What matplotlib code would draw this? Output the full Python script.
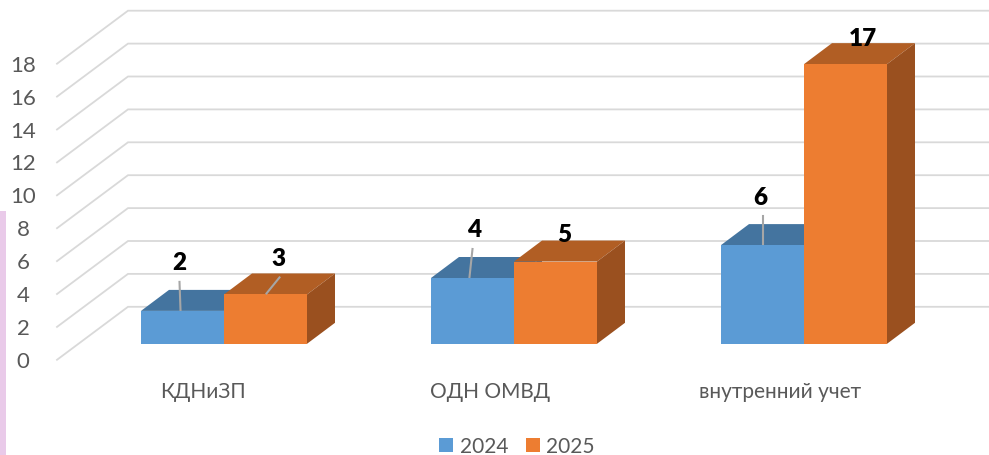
import matplotlib
matplotlib.use("Agg")
import matplotlib.pyplot as plt
from matplotlib.patches import Patch, Rectangle

plt.rcParams['font.family'] = ['Lato', 'DejaVu Sans']

categories = ["КДНиЗП", "ОДН ОМВД", "внутренний учет"]
series_2024 = [2, 4, 6]
series_2025 = [3, 5, 17]
y_ticks = [0, 2, 4, 6, 8, 10, 12, 14, 16, 18]
legend_labels = ["2024", "2025"]

W, H = 989, 456
PX_X = 290.0      # pixels per category
PX_Y = 16.45      # pixels per unit
X0, Y0 = 224.0, 344.8
BAR_W = 83 / PX_X
DX, DY = 28 / PX_X, 21 / PX_Y
GRID_X0 = (57 - X0) / PX_X
GRID_X1 = (128 - X0) / PX_X
GRID_BASE_F = (Y0 - 360.8) / PX_Y
GRID_BASE_B = (Y0 - 307.8) / PX_Y

BLUE, BLUE_TOP = "#5B9BD5", "#44749F"
ORANGE, ORANGE_TOP, ORANGE_SIDE = "#ED7D31", "#B15E24", "#9A501F"
GRID, TXT = "#D9D9D9", "#595959"

fig = plt.figure(figsize=(W / 100, H / 100), dpi=100, facecolor="white")
ax = fig.add_axes([0, 0, 1, 1])
ax.set_xlim(-X0 / PX_X, (W - X0) / PX_X)
ax.set_ylim((Y0 - H) / PX_Y, Y0 / PX_Y)
ax.axis("off")

# pink strip at the left edge
fig.add_artist(Rectangle((0, 0), 6 / W, (H - 212) / H, transform=fig.transFigure,
                         facecolor="#E9CAE9", edgecolor="none"))

# walls
xmax = ax.get_xlim()[1]
for t in y_ticks:
    ax.plot([GRID_X0, GRID_X1, xmax], [GRID_BASE_F + t, GRID_BASE_B + t, GRID_BASE_B + t],
            color=GRID, lw=1.3, zorder=1, solid_joinstyle="miter")
    ax.annotate(str(t), xy=(GRID_X0, GRID_BASE_F + t), xytext=(-34, -1), textcoords="offset pixels",
                ha="center", va="center", fontsize=16, color=TXT)


def bar3d(xc, v, front, top, side, z):
    l, r = xc - BAR_W / 2, xc + BAR_W / 2
    ax.bar(xc, v, width=BAR_W, color=front, zorder=z + 0.2, linewidth=0)
    ax.fill([l, r, r + DX, l + DX], [v, v, v + DY, v + DY], color=top, lw=0, zorder=z)
    ax.fill([r, r + DX, r + DX, r], [0, DY, v + DY, v], color=side, lw=0, zorder=z)


for i in range(len(categories)):
    bar3d(i - BAR_W / 2, series_2024[i], BLUE, BLUE_TOP, BLUE_TOP, 2 + i)
    bar3d(i + BAR_W / 2, series_2025[i], ORANGE, ORANGE_TOP, ORANGE_SIDE, 2.5 + i)

# data labels: pixel offset of text from the bar's top-centre, leader (start, end) offsets
lab_2024 = [(-3, 49), (2, 49), (-2, 48)]
lead_2024 = [((-2, 1), (-3, 29)), ((-3, 1), (0, 29)), ((0, 1), (0, 29))]
lab_2025 = [(13, 36), (9, 28), (17, 26)]
lead_2025 = [((1, 1), (14, 17)), None, None]

for i in range(len(categories)):
    for xc, v, off, lead in ((i - BAR_W / 2, series_2024[i], lab_2024[i], lead_2024[i]),
                             (i + BAR_W / 2, series_2025[i], lab_2025[i], lead_2025[i])):
        ax.annotate(str(v), xy=(xc, v), xytext=off, textcoords="offset pixels", ha="center",
                    va="center", fontsize=17.5, fontweight="heavy", color="black", zorder=12)
        if lead:
            (a, b), (c, d) = lead
            ax.plot([xc + a / PX_X, xc + c / PX_X], [v + b / PX_Y, v + d / PX_Y],
                    color="#A6A6A6", lw=1.5, zorder=11)

# category labels
for i, c in enumerate(categories):
    ax.annotate(c, xy=(i, 0), xytext=(-21 + (i == 1) * (-3) + (i == 2) * (-3), -47), textcoords="offset pixels",
                ha="center", va="center", fontsize=15, color=TXT)

handles = [Patch(facecolor=BLUE, edgecolor="none"), Patch(facecolor=ORANGE, edgecolor="none")]
ax.legend(handles, legend_labels, ncols=2, loc="center", bbox_to_anchor=(517 / W, 1 - 447 / H),
          frameon=False, fontsize=15, labelcolor=TXT, handlelength=0.68, handleheight=0.68,
          handletextpad=0.3, columnspacing=0.85, borderpad=0, borderaxespad=0)

fig.savefig("out.png", dpi=100)
